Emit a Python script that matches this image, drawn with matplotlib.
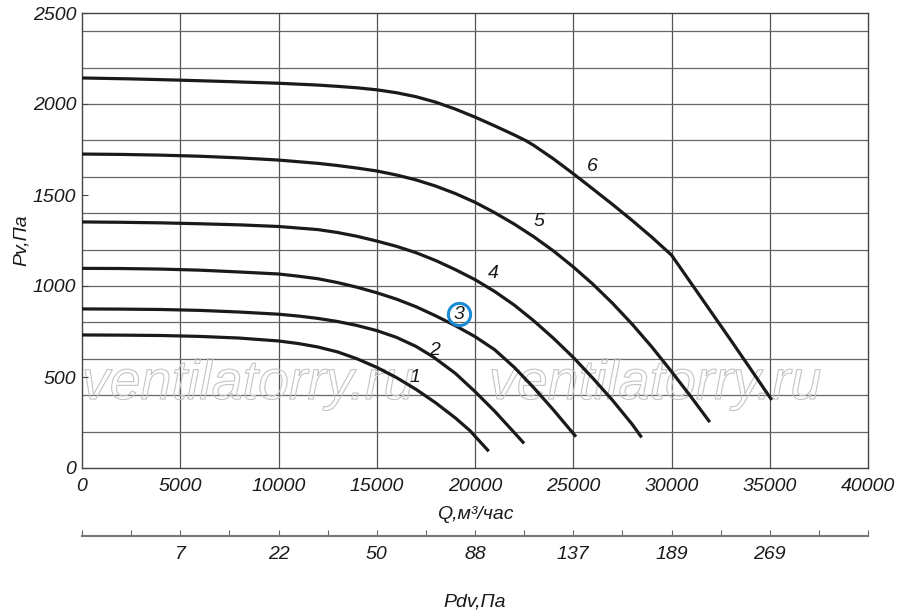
import numpy as np
import matplotlib
matplotlib.use('Agg')
import matplotlib.pyplot as plt
import matplotlib.patheffects as pe

plt.rcParams['font.family'] = ['Liberation Sans', 'DejaVu Sans']
plt.rcParams['font.style'] = 'italic'

# fan curves, Q in m3/h, Pv in Pa
q1 = [0, 2000, 4000, 6000, 8000, 10000, 11000, 12000, 13000, 14000, 15000, 16000, 17000, 18000, 19000, 19745, 20700]
p1 = [731, 730, 728, 723, 714, 698, 684, 665, 638, 600, 553, 497, 432, 358, 275, 205, 92]

q2 = [0, 2000, 4000, 6000, 8000, 10000, 11000, 12000, 13000, 14000, 15000, 16000, 17000, 17880, 19000, 20000, 21000, 21950, 22500]
p2 = [874, 873, 871, 866, 857, 845, 835, 822, 805, 783, 755, 718, 668, 610, 520, 420, 312, 200, 135]

q3 = [0, 2000, 4000, 6000, 8000, 10000, 11000, 12000, 13000, 14000, 15000, 16000, 17000, 18000, 19000, 20000, 21000, 22000, 23000, 24000, 24920, 25140]
p3 = [1097, 1096, 1093, 1087, 1077, 1066, 1054, 1040, 1019, 993, 963, 928, 886, 836, 782, 722, 650, 553, 440, 318, 200, 172]

q4 = [0, 2000, 4000, 6000, 8000, 10000, 12000, 13000, 14000, 15000, 16000, 17000, 18000, 19000, 20000, 21000, 22000, 23000, 24000, 25000, 26000, 27000, 28000, 28480]
p4 = [1352, 1350, 1347, 1342, 1336, 1327, 1310, 1294, 1273, 1247, 1218, 1183, 1140, 1090, 1035, 970, 895, 808, 712, 608, 493, 372, 240, 168]

q5 = [0, 2000, 4000, 6000, 8000, 10000, 12000, 13000, 14000, 15000, 16000, 17000, 18000, 19000, 20000, 21000, 22000, 23000, 24000, 25000, 26000, 27000, 28000, 29000, 30000, 31000, 31950]
p5 = [1725, 1723, 1719, 1713, 1704, 1692, 1674, 1662, 1648, 1632, 1610, 1583, 1549, 1508, 1460, 1403, 1340, 1270, 1192, 1105, 1010, 905, 790, 665, 530, 390, 252]

q6 = [0, 2500, 5000, 7500, 10000, 12000, 13000, 14000, 15000, 16000, 17000, 18000, 19000, 20000, 21000, 22000, 22600, 23000, 24000, 25000, 26000, 27000, 28000, 29000, 30000, 31000, 32000, 33000, 34000, 35100]
p6 = [2143, 2138, 2131, 2123, 2114, 2104, 2097, 2089, 2078, 2062, 2040, 2010, 1972, 1928, 1880, 1830, 1798, 1772, 1698, 1617, 1533, 1448, 1360, 1268, 1170, 1015, 860, 705, 548, 374]

curves = [(q1, p1), (q2, p2), (q3, p3), (q4, p4), (q5, p5), (q6, p6)]

# curve number labels
label_names = ['1', '2', '3', '4', '5', '6']
label_q = [16960, 17960, 19185, 20915, 23255, 25950]
label_p = [500, 648, 846, 1071, 1352, 1654]

# dynamic pressure scale under the Q axis
pdv_q = [5000, 10000, 15000, 20000, 25000, 30000, 35000]
pdv_labels = ['7', '22', '50', '88', '137', '189', '269']

fig = plt.figure(figsize=(9, 6.15), dpi=100)
ax = fig.add_axes([82 / 900, 1 - 468 / 615, 786 / 900, 455 / 615])
ax.set_xlim(0, 40000)
ax.set_ylim(0, 2500)

for v in range(5000, 40000, 5000):
    ax.axvline(v, color='#555555', lw=0.9, zorder=1)
for h in range(200, 2500, 200):
    ax.axhline(h, color='#666666', lw=0.9, zorder=1)

for s in ax.spines.values():
    s.set_color('#444444')
    s.set_linewidth(1.0)

# watermark
for wx in [8450, 29160]:
    ax.text(wx, 456, 'ventilatorry.ru', fontsize=40, color='none', ha='center', va='center',
            zorder=1.5, path_effects=[pe.Stroke(linewidth=0.8, foreground='#c4c4c4')])

for q, p in curves:
    ax.plot(q, p, color='#1a1a1a', lw=2.3, solid_capstyle='butt', solid_joinstyle='round', zorder=3)

for name, lq, lp in zip(label_names, label_q, label_p):
    ax.text(lq, lp, name, fontsize=14, ha='center', va='center', color='#1a1a1a', zorder=4)

# circled mark on curve 3
ax.plot(label_q[2], label_p[2], 'o', ms=16, mfc='none', mec='#1a8ad4', mew=2.2, zorder=4)

ax.set_xticks(range(0, 40001, 5000))
ax.set_yticks(range(0, 2501, 500))
ax.tick_params(axis='x', length=0, pad=7, labelsize=14, colors='#1a1a1a')
ax.tick_params(axis='y', direction='in', length=4, pad=4, labelsize=14, colors='#1a1a1a')
ax.tick_params(axis='y', color='#444444')
ax.set_xlabel('Q,м³/час', fontsize=14, labelpad=8, color='#1a1a1a')
ax.set_ylabel('Pv,Па', fontsize=14, labelpad=2, color='#1a1a1a')

sec = ax.secondary_xaxis(-68 / 455)
sec_ticks = list(range(0, 40001, 2500))
sec_labels = [pdv_labels[pdv_q.index(t)] if t in pdv_q else '' for t in sec_ticks]
sec.set_xticks(sec_ticks)
sec.set_xticklabels(sec_labels)
sec.tick_params(direction='in', length=4, pad=7, labelsize=14, color='#666666', labelcolor='#1a1a1a')
sec.spines['bottom'].set_color('#777777')
sec.spines['bottom'].set_linewidth(1.5)
sec.set_xlabel('Pdv,Па', fontsize=14, labelpad=22, color='#1a1a1a')

fig.savefig('out.png', dpi=100)
